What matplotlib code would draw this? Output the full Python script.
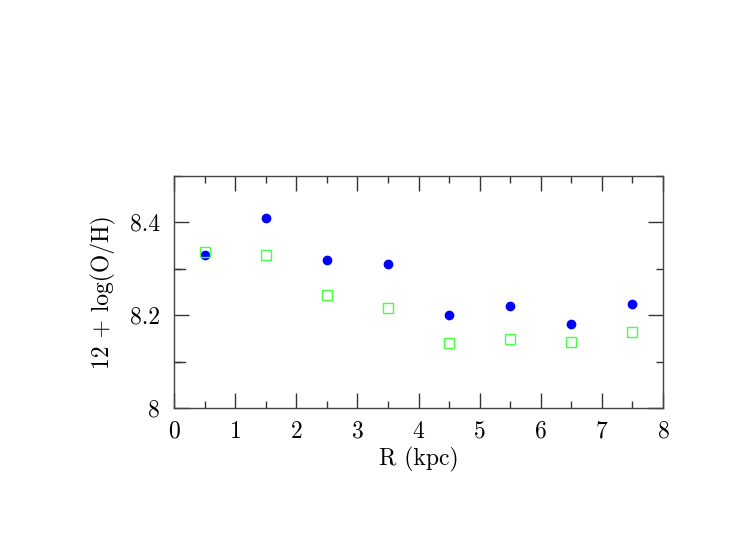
import numpy as np
import matplotlib
matplotlib.use("Agg")
import matplotlib.pyplot as plt
from matplotlib.ticker import MultipleLocator

# radii of the annuli (kpc)
radius = [0.5, 1.5, 2.5, 3.5, 4.5, 5.5, 6.5, 7.5]
# oxygen abundance, two estimates
oh_filled = [8.33, 8.41, 8.32, 8.31, 8.20, 8.22, 8.182, 8.225]
oh_open = [8.336, 8.33, 8.243, 8.216, 8.141, 8.148, 8.142, 8.164]

plt.rcParams['font.family'] = ['cmr10', 'DejaVu Serif']
plt.rcParams['axes.formatter.use_mathtext'] = True

fig = plt.figure(figsize=(7.29, 5.45), dpi=100)
ax = fig.add_axes([0.2387, 0.2514, 0.6708, 0.4257])

ax.plot(radius, oh_filled, 'o', color='#0000ff', markersize=7, markeredgewidth=0)
ax.plot(radius, oh_open, 's', markerfacecolor='none', markeredgecolor='#44ff44',
        markersize=7, markeredgewidth=1.0)

ax.set_xlim(0, 8)
ax.set_ylim(8.0, 8.5)

ax.xaxis.set_major_locator(MultipleLocator(1))
ax.xaxis.set_minor_locator(MultipleLocator(0.5))
ax.yaxis.set_major_locator(MultipleLocator(0.2))
ax.yaxis.set_minor_locator(MultipleLocator(0.1))
ax.set_yticks([8.0, 8.2, 8.4], ['8', '8.2', '8.4'])

ax.tick_params(which='both', direction='in', top=True, right=True,
               color='#333333', labelsize=17, width=1)
ax.tick_params(which='major', length=11)
ax.tick_params(which='minor', length=5)
ax.tick_params(axis='x', which='major', pad=9)
ax.tick_params(axis='y', which='major', pad=10)

# left axis draws every 0.1 tick long
for y in [8.1, 8.3]:
    ax.plot([0, 0.18], [y, y], color='#333333', lw=1, clip_on=False)

for s in ax.spines.values():
    s.set_color('#444444')
    s.set_linewidth(1)

ax.set_xlabel('R (kpc)', fontsize=17, labelpad=3)
ax.set_ylabel('12 + log(O/H)', fontsize=17, labelpad=10)

fig.savefig('out.png', dpi=100)
